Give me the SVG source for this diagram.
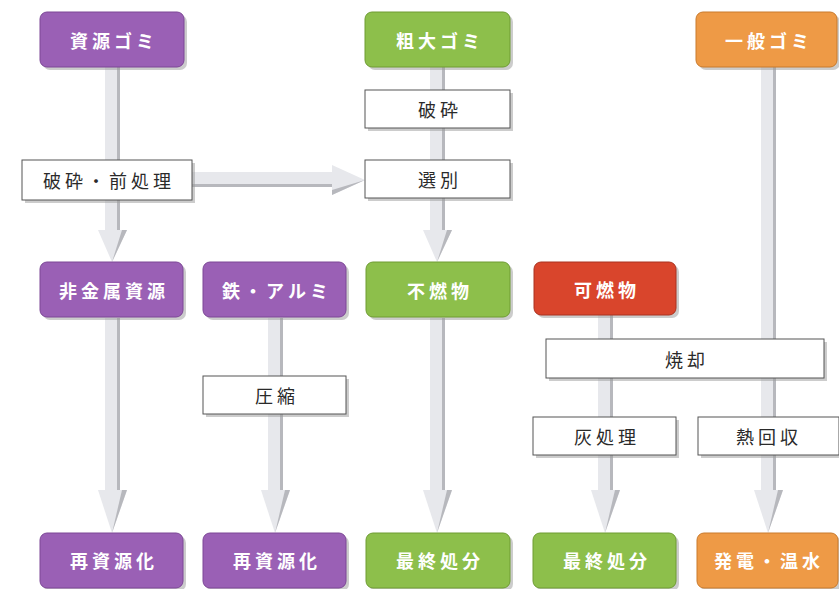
<svg xmlns="http://www.w3.org/2000/svg" width="839" height="589" viewBox="0 0 839 589">
<style>
.n text{font-family:"Noto Sans CJK JP","Noto Sans",sans-serif;font-size:18px;font-weight:bold;fill:#fff;letter-spacing:4px;text-anchor:middle;dominant-baseline:central}
.p text{font-family:"Noto Sans CJK JP","Noto Sans",sans-serif;font-size:18px;fill:#2a2a2a;letter-spacing:4px;text-anchor:middle;dominant-baseline:central}
.sh{fill:#9a9a9a;opacity:.5}
.p rect.b{fill:#fff;stroke:#555;stroke-width:1}
.pu{fill:#9a60b5;stroke:#7c4796;stroke-width:1}
.gr{fill:#8dbf4b;stroke:#6e9c33;stroke-width:1}
.or{fill:#ee9a46;stroke:#c97a2c;stroke-width:1}
.rd{fill:#d9452c;stroke:#aa3320;stroke-width:1}
.a{fill:#e7e8ec}
.ad{fill:#b7b8bd}
</style>
<rect width="839" height="589" fill="#fff"/>
<g id="connectors">
  <g><rect class="a" x="105" y="67" width="15" height="164"/><rect class="ad" x="117" y="67" width="3" height="164"/>
  <polygon class="a" points="98,230 127,230 112,262"/><polygon class="ad" points="122,230 127,230 112,262"/></g>
  <g><rect class="a" x="192" y="172" width="142" height="15"/><rect class="ad" x="192" y="184" width="142" height="3"/>
  <polygon class="a" points="332,165 332,195 365,180"/><polygon class="ad" points="332,190 332,195 365,180"/></g>
  <g><rect class="a" x="430" y="67" width="15" height="164"/><rect class="ad" x="442" y="67" width="3" height="164"/>
  <polygon class="a" points="423,230 452,230 437,262"/><polygon class="ad" points="447,230 452,230 437,262"/></g>
  <g><rect class="a" x="761" y="67" width="15" height="424"/><rect class="ad" x="773" y="67" width="3" height="424"/>
  <polygon class="a" points="754,490 783,490 768,533"/><polygon class="ad" points="778,490 783,490 768,533"/></g>
  <g><rect class="a" x="105" y="318" width="15" height="173"/><rect class="ad" x="117" y="318" width="3" height="173"/>
  <polygon class="a" points="98,490 127,490 112,533"/><polygon class="ad" points="122,490 127,490 112,533"/></g>
  <g><rect class="a" x="268" y="318" width="15" height="173"/><rect class="ad" x="280" y="318" width="3" height="173"/>
  <polygon class="a" points="261,490 290,490 275,533"/><polygon class="ad" points="285,490 290,490 275,533"/></g>
  <g><rect class="a" x="430" y="318" width="15" height="173"/><rect class="ad" x="442" y="318" width="3" height="173"/>
  <polygon class="a" points="423,490 452,490 437,533"/><polygon class="ad" points="447,490 452,490 437,533"/></g>
  <g><rect class="a" x="598" y="315" width="15" height="176"/><rect class="ad" x="610" y="315" width="3" height="176"/>
  <polygon class="a" points="591,490 620,490 605,533"/><polygon class="ad" points="615,490 620,490 605,533"/></g>
</g>

<g id="n-shigen-gomi" class="n"><rect class="sh" x="43" y="15" width="144" height="55" rx="7"/><rect class="pu" x="40" y="12" width="144" height="55" rx="7"/><text x="114" y="40">資源ゴミ</text></g>
<g id="n-sodai-gomi" class="n"><rect class="sh" x="368" y="15" width="145" height="55" rx="7"/><rect class="gr" x="365" y="12" width="145" height="55" rx="7"/><text x="440" y="40">粗大ゴミ</text></g>
<g id="n-ippan-gomi" class="n"><rect class="sh" x="699" y="15" width="141" height="55" rx="7"/><rect class="or" x="696" y="12" width="141" height="55" rx="7"/><text x="769" y="40">一般ゴミ</text></g>

<g id="p-hasai" class="p"><rect class="sh" x="368" y="93" width="145" height="38"/><rect class="b" x="365" y="90" width="145" height="38"/><text x="440" y="109">破砕</text></g>
<g id="p-senbetsu" class="p"><rect class="sh" x="368" y="163" width="145" height="38"/><rect class="b" x="365" y="160" width="145" height="38"/><text x="440" y="179">選別</text></g>
<g id="p-maeshori" class="p"><rect class="sh" x="25" y="163" width="170" height="40"/><rect class="b" x="22" y="160" width="170" height="40"/><text x="109" y="180">破砕・前処理</text></g>

<g id="n-hikinzoku" class="n"><rect class="sh" x="43" y="265" width="143" height="55" rx="7"/><rect class="pu" x="40" y="262" width="143" height="55" rx="7"/><text x="114" y="290">非金属資源</text></g>
<g id="n-tetsu" class="n"><rect class="sh" x="206" y="265" width="143" height="55" rx="7"/><rect class="pu" x="203" y="262" width="143" height="55" rx="7"/><text x="277" y="290">鉄・アルミ</text></g>
<g id="n-funen" class="n"><rect class="sh" x="369" y="265" width="144" height="55" rx="7"/><rect class="gr" x="366" y="262" width="144" height="55" rx="7"/><text x="440" y="290">不燃物</text></g>
<g id="n-kanen" class="n"><rect class="sh" x="537" y="265" width="142" height="53" rx="7"/><rect class="rd" x="534" y="262" width="142" height="53" rx="7"/><text x="607" y="289">可燃物</text></g>

<g id="p-shokyaku" class="p"><rect class="sh" x="549" y="342" width="278" height="39"/><rect class="b" x="546" y="339" width="278" height="39"/><text x="687" y="359">焼却</text></g>
<g id="p-asshuku" class="p"><rect class="sh" x="206" y="379" width="143" height="38"/><rect class="b" x="203" y="376" width="143" height="38"/><text x="277" y="395">圧縮</text></g>
<g id="p-haishori" class="p"><rect class="sh" x="536" y="420" width="143" height="38"/><rect class="b" x="533" y="417" width="143" height="38"/><text x="607" y="436">灰処理</text></g>
<g id="p-netsukaishu" class="p"><rect class="sh" x="701" y="420" width="141" height="38"/><rect class="b" x="698" y="417" width="141" height="38"/><text x="769" y="436">熱回収</text></g>

<g id="n-saishigen1" class="n"><rect class="sh" x="43" y="536" width="143" height="55" rx="7"/><rect class="pu" x="40" y="533" width="143" height="55" rx="7"/><text x="114" y="560">再資源化</text></g>
<g id="n-saishigen2" class="n"><rect class="sh" x="206" y="536" width="143" height="55" rx="7"/><rect class="pu" x="203" y="533" width="143" height="55" rx="7"/><text x="277" y="560">再資源化</text></g>
<g id="n-saishu1" class="n"><rect class="sh" x="369" y="536" width="144" height="55" rx="7"/><rect class="gr" x="366" y="533" width="144" height="55" rx="7"/><text x="440" y="560">最終処分</text></g>
<g id="n-saishu2" class="n"><rect class="sh" x="536" y="536" width="143" height="55" rx="7"/><rect class="gr" x="533" y="533" width="143" height="55" rx="7"/><text x="607" y="560">最終処分</text></g>
<g id="n-hatsuden" class="n"><rect class="sh" x="700" y="536" width="141" height="55" rx="7"/><rect class="or" x="697" y="533" width="141" height="55" rx="7"/><text x="769" y="560">発電・温水</text></g>
</svg>
